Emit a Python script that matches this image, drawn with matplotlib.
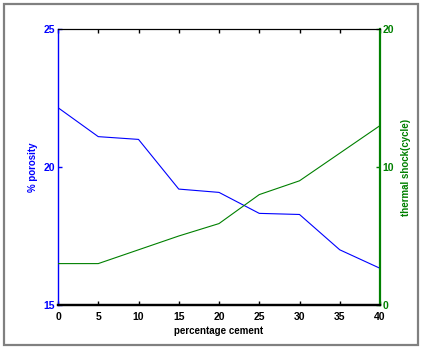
import matplotlib
matplotlib.use("Agg")
import matplotlib.pyplot as plt
from matplotlib.patches import Rectangle

cement = [0, 5, 10, 15, 20, 25, 30, 35, 40]
porosity = [22.15, 21.1, 21.0, 19.2, 19.08, 18.32, 18.28, 17.0, 16.33]
shock = [3, 3, 4, 5, 5.9, 8, 9, 11, 13]

plt.rcParams['font.family'] = ['Liberation Sans', 'DejaVu Sans']
plt.rcParams['font.weight'] = 'bold'
fs = 7
tfs = 7.5

fig = plt.figure(figsize=(4.26, 3.48), dpi=100)
W, H = 426, 348
fig.patches.append(Rectangle((4 / W, 3.5 / H), 413.5 / W, 340.5 / H, transform=fig.transFigure,
                             fill=False, edgecolor='#808080', linewidth=1.6))

ax = fig.add_axes([58 / W, 1 - 305 / H, 322 / W, 276 / H])
ax2 = ax.twinx()

ax.plot(cement, porosity, color='#0000ff', linewidth=0.8)
ax2.plot(cement, shock, color='#008000', linewidth=0.8)

ax.set_xlim(0, 40)
ax.set_ylim(15, 25)
ax2.set_ylim(0, 20)
ax.set_xticks([0, 5, 10, 15, 20, 25, 30, 35, 40])
ax.set_yticks([15, 20, 25])
ax2.set_yticks([0, 10, 20])

ax.tick_params(axis='x', direction='in', length=3, width=1, top=True, labelsize=tfs, pad=5, colors='black')
ax.tick_params(axis='y', direction='in', length=3, width=1, labelsize=tfs, pad=2, colors='#0000ff')
ax2.tick_params(axis='y', direction='in', length=3, width=1, labelsize=tfs, pad=2, colors='#008000')

for a in (ax, ax2):
    a.spines['top'].set_color('black')
    a.spines['top'].set_linewidth(0.8)
    a.spines['bottom'].set_color('black')
    a.spines['bottom'].set_linewidth(1.6)
ax.spines['left'].set_color('#0000ff')
ax.spines['left'].set_linewidth(1.0)
ax2.spines['left'].set_visible(False)
ax.spines['right'].set_visible(False)
ax2.spines['right'].set_color('#008000')
ax2.spines['right'].set_linewidth(1.6)

ax.set_xlabel('percentage cement', fontsize=fs, fontweight='bold', labelpad=3)
ax.set_ylabel('% porosity', fontsize=fs, fontweight='bold', color='#0000ff', labelpad=4)
ax2.set_ylabel('thermal shock(cycle)', fontsize=fs, fontweight='bold', color='#008000', labelpad=5)

fig.savefig('out.png', dpi=100)
